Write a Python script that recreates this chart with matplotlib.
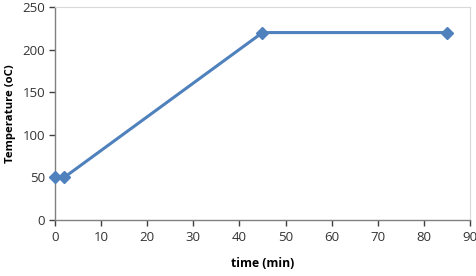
import matplotlib
matplotlib.use("Agg")
import matplotlib.pyplot as plt

time_min = [0, 2, 45, 85]
temperature = [50, 50, 220, 220]
x_ticks = [0, 10, 20, 30, 40, 50, 60, 70, 80, 90]
y_ticks = [0, 50, 100, 150, 200, 250]

plt.rcParams['font.family'] = ['Open Sans', 'DejaVu Sans']

fig = plt.figure(figsize=(4.77, 2.76), dpi=100)
ax = fig.add_axes([0.1153, 0.2029, 0.8700, 0.7717])
ax.plot(time_min, temperature, color='#4F81BD', linewidth=2.2, marker='D',
        markersize=6, clip_on=False, zorder=3)
ax.set_xlim(0, 90)
ax.set_ylim(0, 250)
ax.set_xticks(x_ticks)
ax.set_yticks(y_ticks)
ax.tick_params(axis='both', labelsize=9.5, colors='#404040', length=4, width=1, direction='out')
ax.tick_params(axis='x', pad=4)
ax.tick_params(axis='y', pad=3)
ax.tick_params(axis='both', labelcolor='#333333')
for s in ['left', 'bottom']:
    ax.spines[s].set_color('#808080')
    ax.spines[s].set_linewidth(1)
for s in ['top', 'right']:
    ax.spines[s].set_color('#D9D9D9')
    ax.spines[s].set_linewidth(0.8)
ax.set_xlabel('time (min)', fontsize=8.7, fontweight='bold', labelpad=9)
ax.set_ylabel('Temperature (oC)', fontsize=8.2, fontweight='bold', labelpad=5)
fig.savefig('out.png', dpi=100)
